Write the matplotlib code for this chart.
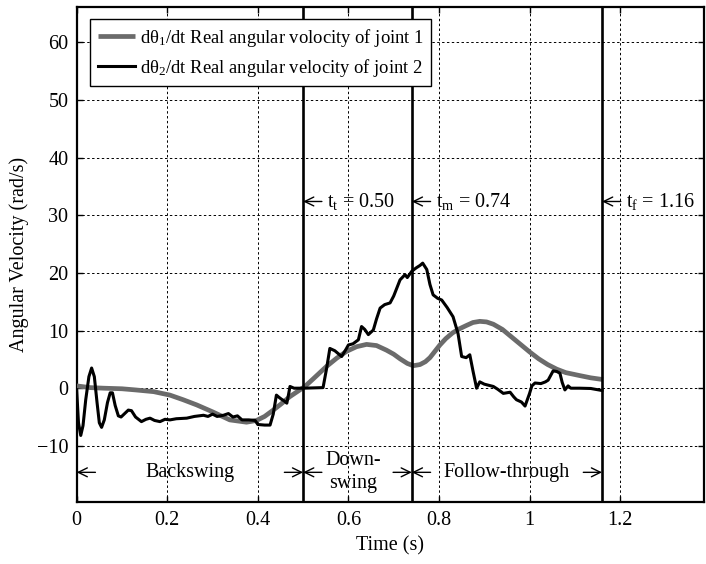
import matplotlib
matplotlib.use("Agg")
import matplotlib.pyplot as plt

plt.rcParams['font.family'] = ['Liberation Serif', 'DejaVu Serif']
plt.rcParams['mathtext.fontset'] = 'custom'
plt.rcParams['mathtext.rm'] = 'Liberation Serif'
plt.rcParams['mathtext.it'] = 'Liberation Serif:italic'
plt.rcParams['font.size'] = 14.5

# ---- data ----
t1 = [0, 0.03, 0.06, 0.10, 0.13, 0.17, 0.206, 0.235, 0.265, 0.30, 0.338, 0.375,
      0.397, 0.415, 0.434, 0.452, 0.47, 0.487, 0.504, 0.522, 0.537, 0.552, 0.574,
      0.596, 0.618, 0.64, 0.662, 0.684, 0.70, 0.714, 0.73, 0.743, 0.758, 0.77,
      0.78, 0.79, 0.802, 0.815, 0.83, 0.845, 0.861, 0.875, 0.89, 0.905, 0.92,
      0.94, 0.96, 0.98, 1.0, 1.02, 1.04, 1.06, 1.08, 1.11, 1.135, 1.162]
v1 = [0.4, 0.1, 0.0, -0.1, -0.3, -0.6, -1.2, -2.0, -2.9, -4.1, -5.5, -5.9,
      -5.6, -4.9, -3.8, -2.7, -1.5, -0.6, 0.3, 1.6, 2.7, 3.8, 5.2,
      6.4, 7.2, 7.6, 7.4, 6.6, 5.9, 5.1, 4.3, 3.9, 4.1, 4.6,
      5.3, 6.3, 7.5, 8.6, 9.6, 10.3, 10.9, 11.4, 11.6, 11.5, 11.1,
      10.2, 8.9, 7.6, 6.3, 5.1, 4.1, 3.3, 2.7, 2.2, 1.8, 1.5]

t2 = [0, 0.004, 0.009, 0.014, 0.02, 0.027, 0.033, 0.039, 0.045, 0.05, 0.055,
      0.061, 0.068, 0.074, 0.079, 0.085, 0.092, 0.098, 0.106, 0.114, 0.121,
      0.13, 0.143, 0.153, 0.162, 0.172, 0.184, 0.195, 0.206, 0.22, 0.243,
      0.26, 0.28, 0.29, 0.30, 0.31, 0.324, 0.335, 0.345, 0.355, 0.365, 0.38,
      0.394, 0.40, 0.415, 0.427, 0.434, 0.441, 0.447, 0.452, 0.458, 0.464,
      0.468, 0.471, 0.48, 0.50, 0.544, 0.552, 0.559, 0.57, 0.585, 0.595,
      0.60, 0.61, 0.622, 0.629, 0.636, 0.644, 0.655, 0.662, 0.67, 0.68,
      0.692, 0.70, 0.714, 0.725, 0.73, 0.74, 0.75, 0.758, 0.764, 0.773,
      0.78, 0.787, 0.797, 0.806, 0.818, 0.831, 0.842, 0.85, 0.86, 0.868,
      0.875, 0.883, 0.89, 0.90, 0.92, 0.93, 0.942, 0.957, 0.965, 0.971,
      0.982, 0.99, 0.995, 1.0, 1.005, 1.012, 1.025, 1.035, 1.041, 1.052,
      1.06, 1.067, 1.072, 1.078, 1.085, 1.091, 1.11, 1.135, 1.16]
v2 = [-0.3, -6.0, -8.2, -6.5, -2.0, 2.0, 3.5, 2.0, -2.5, -6.0, -6.8,
      -5.5, -2.5, -0.8, -0.8, -3.0, -4.8, -5.0, -4.4, -3.8, -3.9,
      -5.0, -5.8, -5.4, -5.2, -5.6, -5.8, -5.4, -5.5, -5.3, -5.2,
      -4.9, -4.7, -4.9, -4.5, -4.9, -4.7, -4.4, -5.0, -4.8, -5.5, -5.5,
      -5.6, -6.3, -6.4, -6.4, -4.5, -1.2, -1.6, -1.9, -2.2, -2.6,
      -1.0, 0.3, 0.0, 0.0, 0.1, 3.5, 6.9, 6.5, 5.5, 6.8,
      7.5, 7.7, 8.4, 10.7, 10.2, 9.3, 10.1, 12.0, 13.9, 14.5,
      14.8, 16.0, 18.8, 19.7, 19.2, 20.3, 20.9, 21.3, 21.7, 20.6,
      18.0, 16.2, 15.6, 15.3, 14.0, 12.4, 9.5, 5.5, 5.3, 5.8,
      3.0, 0.0, 1.1, 0.7, 0.3, -0.2, -0.9, -0.7, -1.5, -2.0,
      -2.4, -3.1, -2.0, -0.9, 0.4, 0.9, 0.8, 1.1, 1.4, 3.0,
      2.9, 2.6, 1.0, -0.3, 0.4, 0.0, 0.0, -0.05, -0.4]

phase_times = [0.50, 0.74, 1.16]
phase_names = ["t", "m", "f"]
phase_labels = ["0.50", "0.74", "1.16"]

label1 = "dθ$_1$/dt Real angular volocity of joint 1"
label2 = "dθ$_2$/dt Real angular velocity of joint 2"

xticks = [0, 0.2, 0.4, 0.6, 0.8, 1.0, 1.2]
xticklabels = ["0", "0.2", "0.4", "0.6", "0.8", "1", "1.2"]
yticks = [-10, 0, 10, 20, 30, 40, 50, 60]

# ---- figure ----
fig = plt.figure(figsize=(7.06, 5.64), dpi=100)
ax = fig.add_axes([0.1086, 0.1094, 0.8885, 0.8777])

ax.plot(t1, v1, color='#6b6b6b', lw=3.4, solid_capstyle='butt', label=label1, zorder=3)
ax.plot(t2, v2, color='black', lw=2.2, label=label2, zorder=4)

for t in phase_times:
    ax.axvline(t, color='black', lw=1.9, zorder=5)

ax.set_xlim(0, 1.385)
ax.set_ylim(-19.8, 66.1)
ax.set_xticks(xticks)
ax.set_xticklabels(xticklabels)
ax.set_yticks(yticks)

ax.grid(True, color='black', linestyle=(0, (2.5, 2.5)), lw=0.7)
ax.tick_params(direction='in', top=True, right=True, length=4, width=1,
               labelsize=14.5, pad=6)
for s in ax.spines.values():
    s.set_linewidth(1.6)

ax.set_xlabel("Time (s)", fontsize=14.5, labelpad=5)
ax.set_ylabel("Angular Velocity (rad/s)", fontsize=14.5, labelpad=6)

arrow_kw = dict(arrowstyle='->,head_length=0.45,head_width=0.22', lw=1.0,
                color='black', shrinkA=0, shrinkB=0)


def arrow(x, y, direction):
    # direction -1: arrow pointing left to x (starts right of x); +1: pointing right to x
    ax.annotate("", xy=(x, y), xytext=(-direction * 13.5, 0),
                textcoords='offset points', arrowprops=arrow_kw, zorder=6)


# phase marker labels
yt = 32.4
for t, n, lab in zip(phase_times, phase_names, phase_labels):
    arrow(t, yt, -1)
    ax.annotate("t$_\\mathrm{%s}$ = %s" % (n, lab), xy=(t, yt), xytext=(17.5, 0),
                textcoords='offset points', ha='left', va='center',
                fontsize=14.5, zorder=6)

# phase names with arrows
yb = -14.6
arrow(0.0, yb, -1)
ax.text(0.25, yb, "Backswing", ha='center', va='center', fontsize=14.5)
arrow(0.50, yb, +1)
arrow(0.50, yb, -1)
ax.text(0.61, -12.6, "Down-", ha='center', va='center', fontsize=14.5)
ax.text(0.61, -16.6, "swing", ha='center', va='center', fontsize=14.5)
arrow(0.74, yb, +1)
arrow(0.74, yb, -1)
ax.text(0.95, yb, "Follow-through", ha='center', va='center', fontsize=14.5)
arrow(1.16, yb, +1)

leg = ax.legend(loc='upper left', bbox_to_anchor=(0.022, 0.976), borderaxespad=0,
                fancybox=False, edgecolor='black', framealpha=1, fontsize=13.4,
                handlelength=2.0, handletextpad=0.25, labelspacing=0.45,
                borderpad=0.4)
leg.get_frame().set_linewidth(1.0)
leg.set_zorder(10)

fig.savefig("out.png", dpi=100)
